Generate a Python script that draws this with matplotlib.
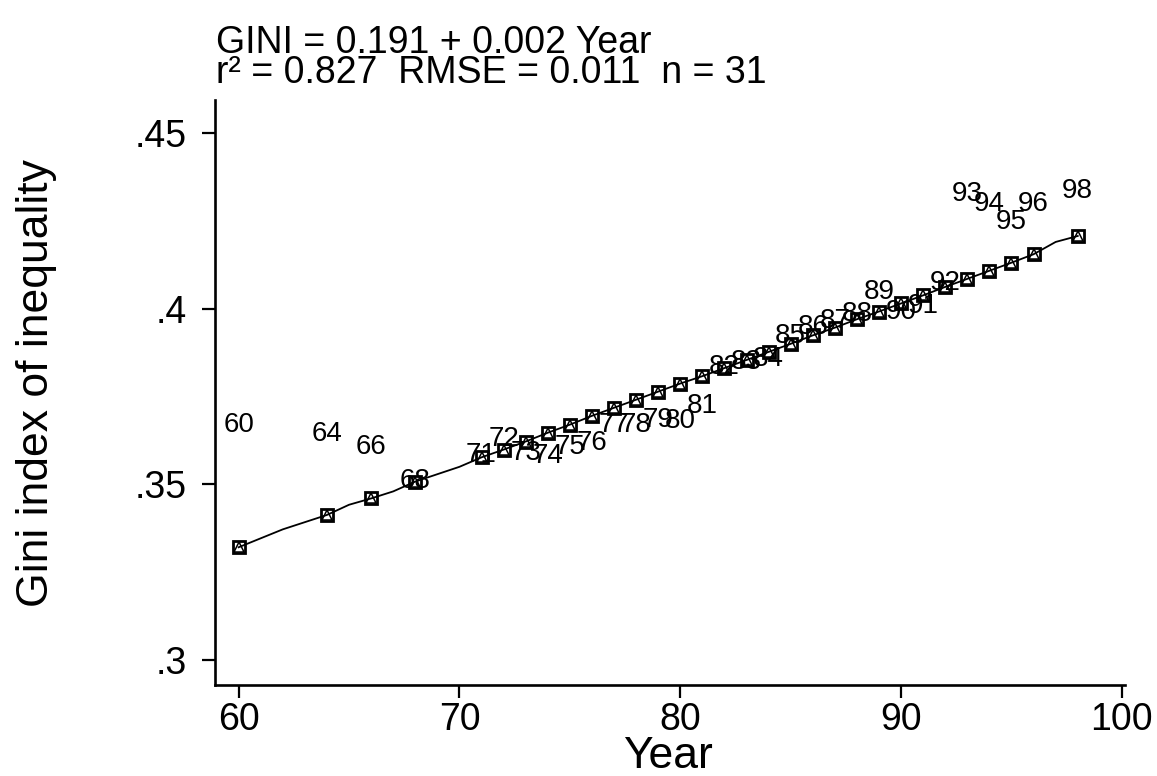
import matplotlib
matplotlib.use('Agg')
import matplotlib.pyplot as plt

plt.rcParams['font.family'] = ['Liberation Sans', 'DejaVu Sans']

# observed gini values, labelled by year
years = [60, 64, 66, 68, 71, 72, 73, 74, 75, 76, 77, 78, 79, 80, 81, 82, 83, 84,
         85, 86, 87, 88, 89, 90, 91, 92, 93, 94, 95, 96, 98]
gini = [.3670, .3642, .3605, .3511, .3585, .3628, .3588, .3580, .3605, .3617,
        .3668, .3668, .3682, .3679, .3722, .3833, .3847, .3858, .3923, .3949,
        .3966, .3986, .4048, .3991, .4009, .4074, .4327, .4298, .4247, .4298, .4335]

# fitted values at each year
fitted = [.3321, .3413, .3460, .3506, .3577, .3599, .3622, .3647, .3670, .3695,
          .3718, .3741, .3764, .3787, .3808, .3831, .3854, .3877, .3900, .3924,
          .3946, .3970, .3992, .4015, .4038, .4062, .4085, .4108, .4131, .4155, .4207]

# smoothed line
line_x = [60, 62, 64, 65, 66, 67, 68, 70, 71, 72, 73, 74, 75, 76, 77, 78, 79, 80,
          81, 82, 83, 84, 85, 86, 87, 88, 89, 90, 91, 92, 93, 94, 95, 96, 97, 98]
line_y = [.3321, .3372, .3413, .3442, .3460, .3480, .3508, .3550, .3577, .3599,
          .3622, .3647, .3670, .3695, .3718, .3741, .3764, .3787, .3808, .3831,
          .3854, .3877, .3900, .3924, .3946, .3970, .3992, .4015, .4038, .4062,
          .4085, .4108, .4131, .4155, .4190, .4207]

fig = plt.figure(figsize=(11.57, 7.76), dpi=100)
ax = fig.add_axes([215/1157, 1-685/776, (1125-215)/1157, (685-100)/776])

ax.plot(line_x, line_y, '-', color='black', lw=1.3, zorder=2)
ax.plot(years, fitted, 's', ms=9, mfc='none', mec='black', mew=2.0, zorder=3)
ax.plot(years, fitted, '^', ms=6.5, mfc='none', mec='black', mew=1.1, zorder=3)

for yr, g in zip(years, gini):
    ax.text(yr, g, str(yr), ha='center', va='center', fontsize=20, zorder=4)

ax.set_xlim(58.93, 100.14)
ax.set_ylim(.2929, .4594)
ax.set_xticks([60, 70, 80, 90, 100])
ax.set_yticks([.3, .35, .4, .45])
ax.set_yticklabels(['.3', '.35', '.4', '.45'])

for s in ['top', 'right']:
    ax.spines[s].set_visible(False)
for s in ['left', 'bottom']:
    ax.spines[s].set_linewidth(1.9)
ax.tick_params(axis='both', length=9.5, width=1.6, labelsize=27)
ax.tick_params(axis='x', pad=3)
ax.tick_params(axis='y', pad=11)

fig.text(668/1157, 1-768/776, 'Year', ha='center', va='baseline', fontsize=32)
fig.text(37/1157, 1-383/776, 'Gini index of inequality', rotation=90,
         ha='center', va='center', fontsize=32)
fig.text(216/1157, 1-53/776, 'GINI = 0.191 + 0.002 Year', ha='left', va='baseline', fontsize=27)
fig.text(216/1157, 1-83/776, 'r\u00b2 = 0.827  RMSE = 0.011  n = 31', ha='left', va='baseline', fontsize=27)

fig.savefig('out.png', dpi=100)
